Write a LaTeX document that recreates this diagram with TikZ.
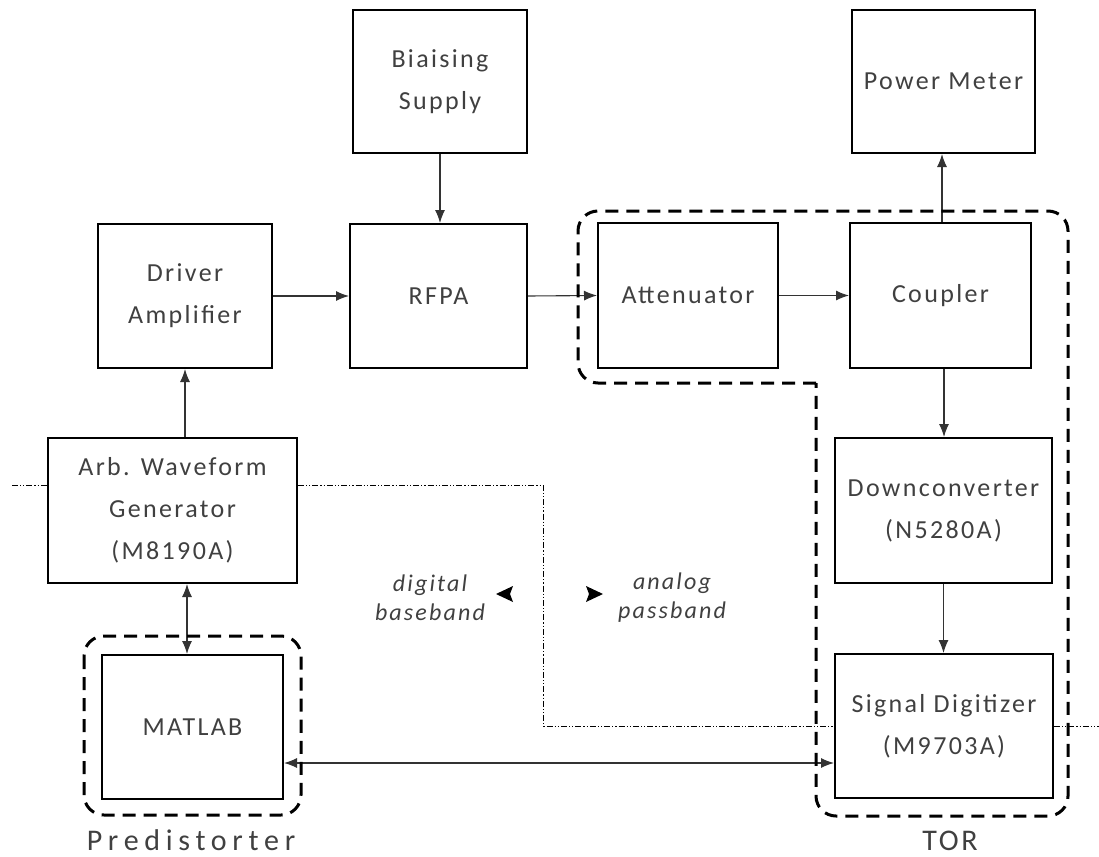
\documentclass[tikz,border=0pt]{standalone}
\usepackage{fontspec}
\setmainfont{Carlito}[LetterSpace=9]
\usetikzlibrary{arrows.meta}

\begin{document}
\begin{tikzpicture}[x=1pt,y=-1pt,
  blk/.style={draw=black, line width=2pt, inner sep=0pt, align=center,
    font=\fontsize{26}{42}\selectfont, text=black!75},
  conn/.style={line width=1.1pt, draw=black!80, -{Latex[length=13pt,width=10pt]}},
  bidir/.style={conn, {Latex[length=13pt,width=10pt]}-{Latex[length=13pt,width=10pt]}},
  grp/.style={draw=black, line width=3pt, dash pattern=on 13pt off 8pt, rounded corners=20pt},
  border/.style={draw=black, line width=1pt, dash pattern=on 6pt off 2pt on 1.2pt off 2pt on 1.2pt off 2pt},
  lbl/.style={font=\fontsize{30}{36}\selectfont, text=black!75, anchor=base, inner sep=0pt},
  dom/.style={font=\fontsize{24}{29}\selectfont\itshape, align=center, text=black!75},
  tipfill/.style={fill=black}
]
\useasboundingbox (0,0) rectangle (1099,856);

% instrument blocks
\node[blk, minimum width=174pt, minimum height=143pt] (bias) at (440,81.5) {Biaising\\Supply};
\node[blk, minimum width=183pt, minimum height=143pt] (pm)   at (943.5,81.5) {Power Meter};
\node[blk, minimum width=174pt, minimum height=144pt] (drv)  at (185,296) {Driver\\Amplifier};
\node[blk, minimum width=177pt, minimum height=144pt] (rfpa) at (438.5,296) {RFPA};
\node[blk, minimum width=180pt, minimum height=145pt] (att)  at (688,295.5) {Attenuator};
\node[blk, minimum width=181pt, minimum height=145pt] (cpl)  at (940.5,295.5) {Coupler};
\node[blk, minimum width=217pt, minimum height=145pt] (dc)   at (943.5,510.5) {Downconverter\\(N5280A)};
\node[blk, minimum width=218pt, minimum height=144pt] (sd)   at (944,726) {Signal Digitizer\\(M9703A)};
\node[blk, minimum width=249pt, minimum height=145pt] (awg)  at (172.5,510.5) {Arb. Waveform\\Generator\\(M8190A)};
\node[blk, minimum width=181pt, minimum height=144pt] (mat)  at (192.5,727) {MATLAB};

% signal chain
\draw[conn] (bias.south) -- (bias.south |- rfpa.north);
\draw[conn] (drv.east) -- (rfpa.west);
\draw[conn] (rfpa.east) -- (att.west);
\draw[conn] (att.east) -- (cpl.west);
\draw[conn] ([xshift=1.5pt]cpl.north) -- ([xshift=1.5pt]cpl.north |- pm.south);
\draw[conn] ([xshift=3.5pt]cpl.south) -- ([xshift=3.5pt]cpl.south |- dc.north);
\draw[conn] (dc.south) -- (dc.south |- sd.north);
\draw[conn] (drv.south |- awg.north) -- (drv.south);
\draw[bidir] ([xshift=-5.5pt]mat.north |- awg.south) -- ([xshift=-5.5pt]mat.north);
\coordinate (mlink) at ([yshift=-36pt]mat.east);
\draw[bidir] (mlink) -- (mlink -| sd.west);

% digital / analog domain border
\coordinate (b0) at (12,485);
\coordinate (b1) at (543,485);
\coordinate (b2) at (543,726);
\coordinate (b3) at (1099,726);
\draw[border] (b0) -- (b0 -| awg.west);
\draw[border] (b0 -| awg.east) -- (b1) -- (b2) -- (b2 -| sd.west);
\draw[border] (b3 -| sd.east) -- (b3);

% domain labels with their direction marks
\node[dom] (dig) at (430,598) {digital\\baseband};
\node[dom] (ana) at (672,598) {analog\\passband};
\fill[tipfill] (496,594) -- (513,586) -- (510,594) -- (513,602) -- cycle;
\fill[tipfill] (603,594) -- (586,586) -- (589,594) -- (586,602) -- cycle;

% functional groups (the TOR outline starts and ends at its one sharp corner)
\draw[grp] (816,383) -- (578,383) -- (578,211) -- (1068,211) -- (1068,816) -- (816,816) -- (816,383);
\draw[grp] (84,636) rectangle (301,815);
\node[lbl] (pred) at (191,850) {\addfontfeature{LetterSpace=19}Predistorter};
\node[lbl] (tor)  at (950,850) {TOR};
\end{tikzpicture}
\end{document}
